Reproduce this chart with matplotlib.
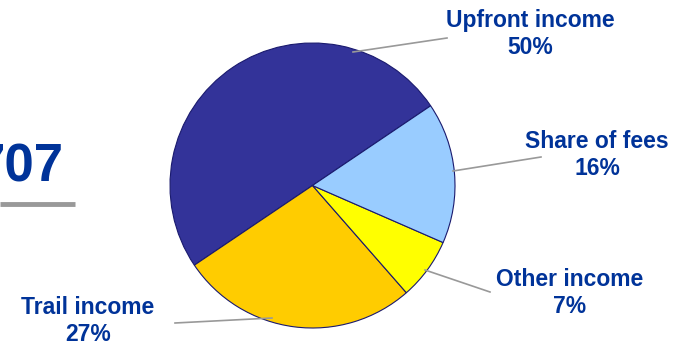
import matplotlib.pyplot as plt

# --- data ---
labels = ["Upfront income", "Trail income", "Other income", "Share of fees"]
shares = [50, 27, 7, 16]
colors = ["#333399", "#FFCC00", "#FFFF00", "#99CCFF"]

# label text positions and leader lines (pixel coords, y from top)
label_pos = [(530, 34), (88, 321), (570, 293), (597, 155)]
leader = [((353, 52), (447, 38)), ((272, 318), (175, 323)),
          ((425, 270), (490, 292)), ((453, 171), (541, 157))]

W, H = 682, 346
TEXT_BLUE = "#003399"

plt.rcParams['font.family'] = ['Liberation Sans', 'DejaVu Sans']

fig = plt.figure(figsize=(W / 100, H / 100), dpi=100)
ax = fig.add_axes([0, 0, 1, 1])

ax.pie(shares, colors=colors, startangle=34, counterclock=True,
       center=(312.5, H - 185.5), radius=142.5,
       wedgeprops=dict(edgecolor="#1a1a6e", linewidth=0.8), frame=True)
ax.set_xlim(0, W)
ax.set_ylim(0, H)
ax.set_aspect('equal')
ax.axis('off')

for lab, s, (tx, ty), (p0, p1) in zip(labels, shares, label_pos, leader):
    ax.plot([p0[0], p1[0]], [H - p0[1], H - p1[1]], color="#999999", lw=1.2)
    ax.text(tx, H - ty, f"{lab}\n{s}%", ha='center', va='center',
            fontsize=16.5, fontweight='bold', color=TEXT_BLUE, linespacing=1.2)

# partial title on the left edge
ax.text(64, H - 168, "707", ha='right', va='center', fontsize=38,
        fontweight='bold', color=TEXT_BLUE)
ax.plot([0, 75], [H - 204, H - 204], color="#999999", lw=3.5,
        solid_capstyle='butt')

fig.savefig("out.png", dpi=100)
